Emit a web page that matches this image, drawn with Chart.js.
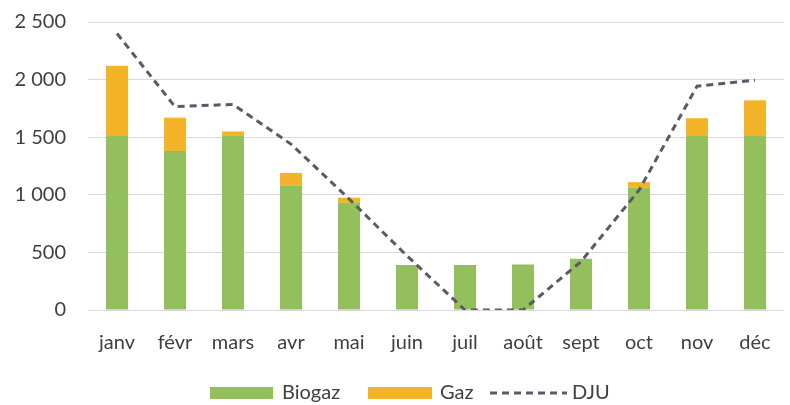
<!DOCTYPE html>
<html>
<head>
<meta charset="utf-8">
<script src="https://cdn.jsdelivr.net/npm/chart.js@4.4.1/dist/chart.umd.min.js"></script>
<style>
  html, body { margin: 0; padding: 0; background: #fff; }
  #wrap { width: 790px; height: 405px; }
</style>
</head>
<body>
<div id="wrap"><canvas id="canvas"></canvas></div>
<script>
var mois = ["janv", "févr", "mars", "avr", "mai", "juin", "juil", "août", "sept", "oct", "nov", "déc"];
var biogaz = [1510, 1380, 1510, 1080, 930, 390, 390, 395, 445, 1060, 1510, 1510];
var gaz = [610, 290, 40, 110, 45, 0, 0, 0, 0, 50, 155, 310];
var dju = [2400, 1765, 1785, 1440, 965, 470, 0, 0, 420, 1040, 1942, 1995];
var yTicks = [0, 500, 1000, 1500, 2000, 2500];

var vert = "#93bf5c";
var orange = "#f4b42a";
var gris = "#5d5868";
var texte = "#404040";
var police = "Lato, 'Open Sans', sans-serif";

function formatNombre(v) {
  // espace comme separateur de milliers
  return String(v).replace(/\B(?=(\d{3})+(?!\d))/g, " ");
}

// legende dessinee a la main (la ligne DJU doit etre un trait pointille)
var legendePlugin = {
  id: "legende",
  afterDraw: function (chart) {
    var ctx = chart.ctx;
    var y = 393;
    ctx.save();
    ctx.font = "20px " + police;
    ctx.textBaseline = "middle";

    ctx.fillStyle = vert;
    ctx.fillRect(210, y - 6, 63, 12);
    ctx.fillStyle = texte;
    ctx.fillText(chart.data.datasets[1].label, 282, y);

    ctx.fillStyle = orange;
    ctx.fillRect(368, y - 6, 64, 12);
    ctx.fillStyle = texte;
    ctx.fillText(chart.data.datasets[2].label, 440, y);

    ctx.strokeStyle = gris;
    ctx.lineWidth = 3;
    ctx.setLineDash([7, 5]);
    ctx.beginPath();
    ctx.moveTo(490, y);
    ctx.lineTo(567, y);
    ctx.stroke();
    ctx.setLineDash([]);
    ctx.fillText(chart.data.datasets[0].label, 572, y);
    ctx.restore();
  }
};

var ctx = document.getElementById("canvas").getContext("2d");
window.myChart = new Chart(ctx, {
  type: "bar",
  data: {
    labels: mois,
    datasets: [
      {
        type: "line",
        label: "DJU",
        data: dju,
        borderColor: gris,
        borderWidth: 3,
        borderDash: [7, 5],
        pointRadius: 0,
        tension: 0,
        fill: false,
        order: 0,
      },
      {
        label: "Biogaz",
        data: biogaz,
        backgroundColor: vert,
        categoryPercentage: 1,
        barPercentage: 0.38,
        order: 1,
      },
      {
        label: "Gaz",
        data: gaz,
        backgroundColor: orange,
        categoryPercentage: 1,
        barPercentage: 0.38,
        order: 1,
      },
    ],
  },
  options: {
    responsive: true,
    maintainAspectRatio: false,
    animation: false,
    layout: { padding: { top: 22, right: 6, left: 0, bottom: 0 } },
    plugins: {
      legend: { display: false },
      tooltip: { enabled: false },
    },
    scales: {
      x: {
        stacked: true,
        grid: { display: false },
        border: { display: false },
        ticks: { color: texte, font: { family: police, size: 20 }, padding: 13 },
        afterFit: function (scale) { scale.height = 95; },
      },
      y: {
        stacked: true,
        min: 0,
        max: 2500,
        afterBuildTicks: function (scale) {
          scale.ticks = yTicks.map(function (v) { return { value: v }; });
        },
        grid: { color: "#d8d8e0", lineWidth: 1, drawTicks: false },
        border: { display: false },
        ticks: {
          color: texte,
          font: { family: police, size: 20 },
          padding: 22,
          callback: function (v) { return formatNombre(v); },
        },
        afterFit: function (scale) {
          scale.width = 88;
          scale.paddingTop = 0;
          scale.paddingBottom = 0;
        },
      },
    },
  },
  plugins: [legendePlugin],
});
</script>
</body>
</html>
